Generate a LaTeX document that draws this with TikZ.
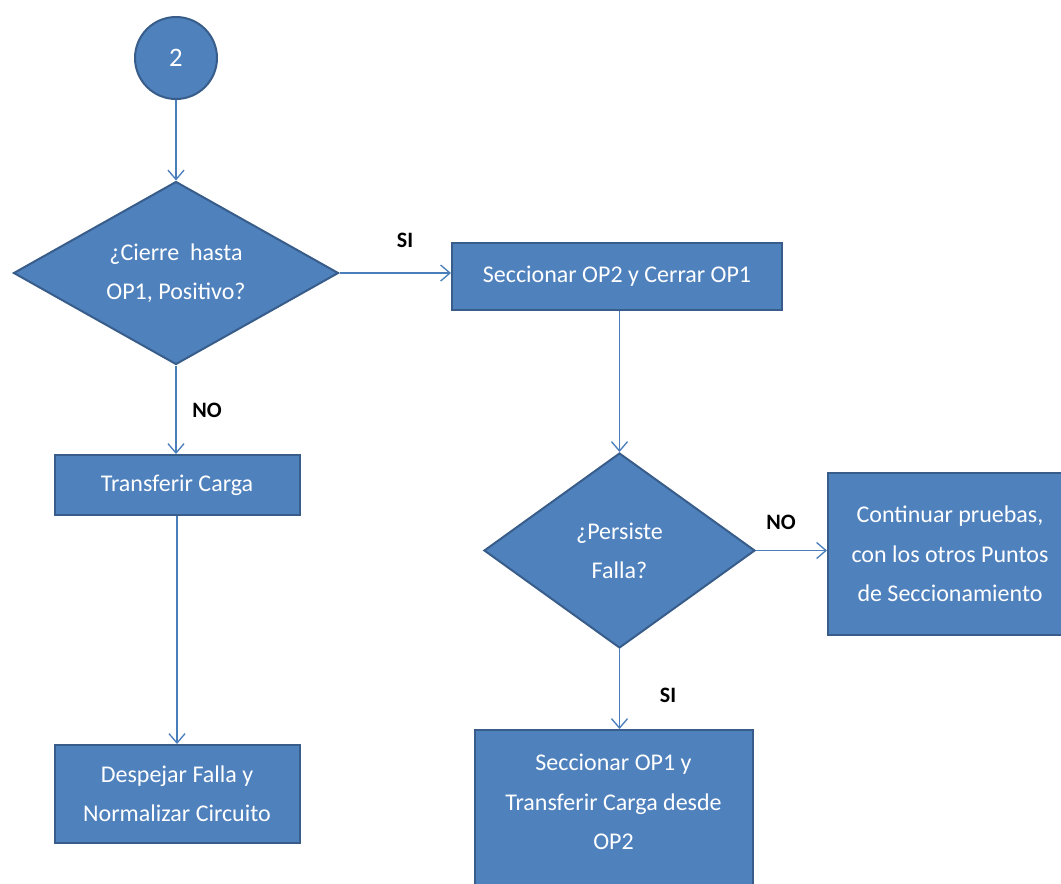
\documentclass[tikz,border=0pt]{standalone}
\usepackage{fontspec}
\setmainfont{Carlito}
\usetikzlibrary{shapes.geometric,arrows.meta}
\definecolor{boxfill}{HTML}{4F81BD}
\definecolor{boxline}{HTML}{385D8A}
\definecolor{arrowline}{HTML}{4A7EBB}

\begin{document}
\begin{tikzpicture}[x=0.75pt,y=-0.75pt,
  every node/.style={font=\fontsize{18}{29.5}\selectfont},
  proc/.style={rectangle, draw=boxline, line width=1.5pt, fill=boxfill,
    text=white, align=center, inner sep=0pt},
  decision/.style={diamond, draw=boxline, line width=1.5pt, fill=boxfill,
    text=white, align=center, inner sep=0pt},
  start/.style={circle, draw=boxline, line width=1.5pt, fill=boxfill,
    text=white, inner sep=0pt, minimum size=61.5pt,
    font=\fontsize{20}{24}\selectfont},
  flow/.style={draw=arrowline, line width=1pt,
    -{Straight Barb[length=7pt,width=12pt]}},
  tag/.style={font=\fontsize{16.5}{20}\selectfont\bfseries, text=black}
]
\useasboundingbox (0,0) rectangle (1061,883);

% connector circle
\node[start] (c2) at (176,58) {2};

% first decision and its branches
\node[decision, aspect=1.78, minimum width=243.75pt, minimum height=137.25pt] (d1) at (176,273)
  {¿Cierre~ hasta\\OP1, Positivo?};
\node[proc, minimum width=247.5pt, minimum height=50.25pt] (sec2) at (617,276.5)
  {Seccionar OP2 y Cerrar OP1};
\node[proc, minimum width=183.75pt, minimum height=45pt] (trans) at (177,485)
  {Transferir Carga};
\node[proc, minimum width=183.75pt, minimum height=73.5pt] (desp) at (177,794)
  {Despejar Falla y\\Normalizar Circuito};

% second decision and its branches
\node[decision, aspect=1.39, minimum width=203.25pt, minimum height=146.25pt] (d2) at (619.5,550.5)
  {¿Persiste\\Falla?};
\node[proc, minimum width=183pt, minimum height=121.5pt] (cont) at (950,554)
  {Continuar pruebas,\\con los otros Puntos\\de Seccionamiento};
\node[proc, minimum width=208.5pt, minimum height=127.5pt] (sec1) at (613.5,815) {};
\node[text=white, align=center] (sec1txt) at (613.5,802)
  {Seccionar OP1 y\\Transferir Carga desde\\OP2};

% connectors
\draw[flow] (c2.south) -- (d1.north);
\draw[flow] (d1.east) -- (sec2.west |- d1.east);
\draw[flow] (d1.south) -- (trans.north -| d1.south);
\draw[flow] (trans.south) -- (desp.north);
\draw[flow] (sec2.south -| d2.north) -- (d2.north);
\draw[flow] (d2.east) -- (d2.east -| cont.west);
\draw[flow] (d2.south) -- (sec1.north -| d2.south);

% branch labels
\node[tag] (l1) at (405,240) {SI};
\node[tag] (l2) at (207,410) {NO};
\node[tag] (l3) at (781,522) {NO};
\node[tag] (l4) at (668,695) {SI};
\end{tikzpicture}
\end{document}
